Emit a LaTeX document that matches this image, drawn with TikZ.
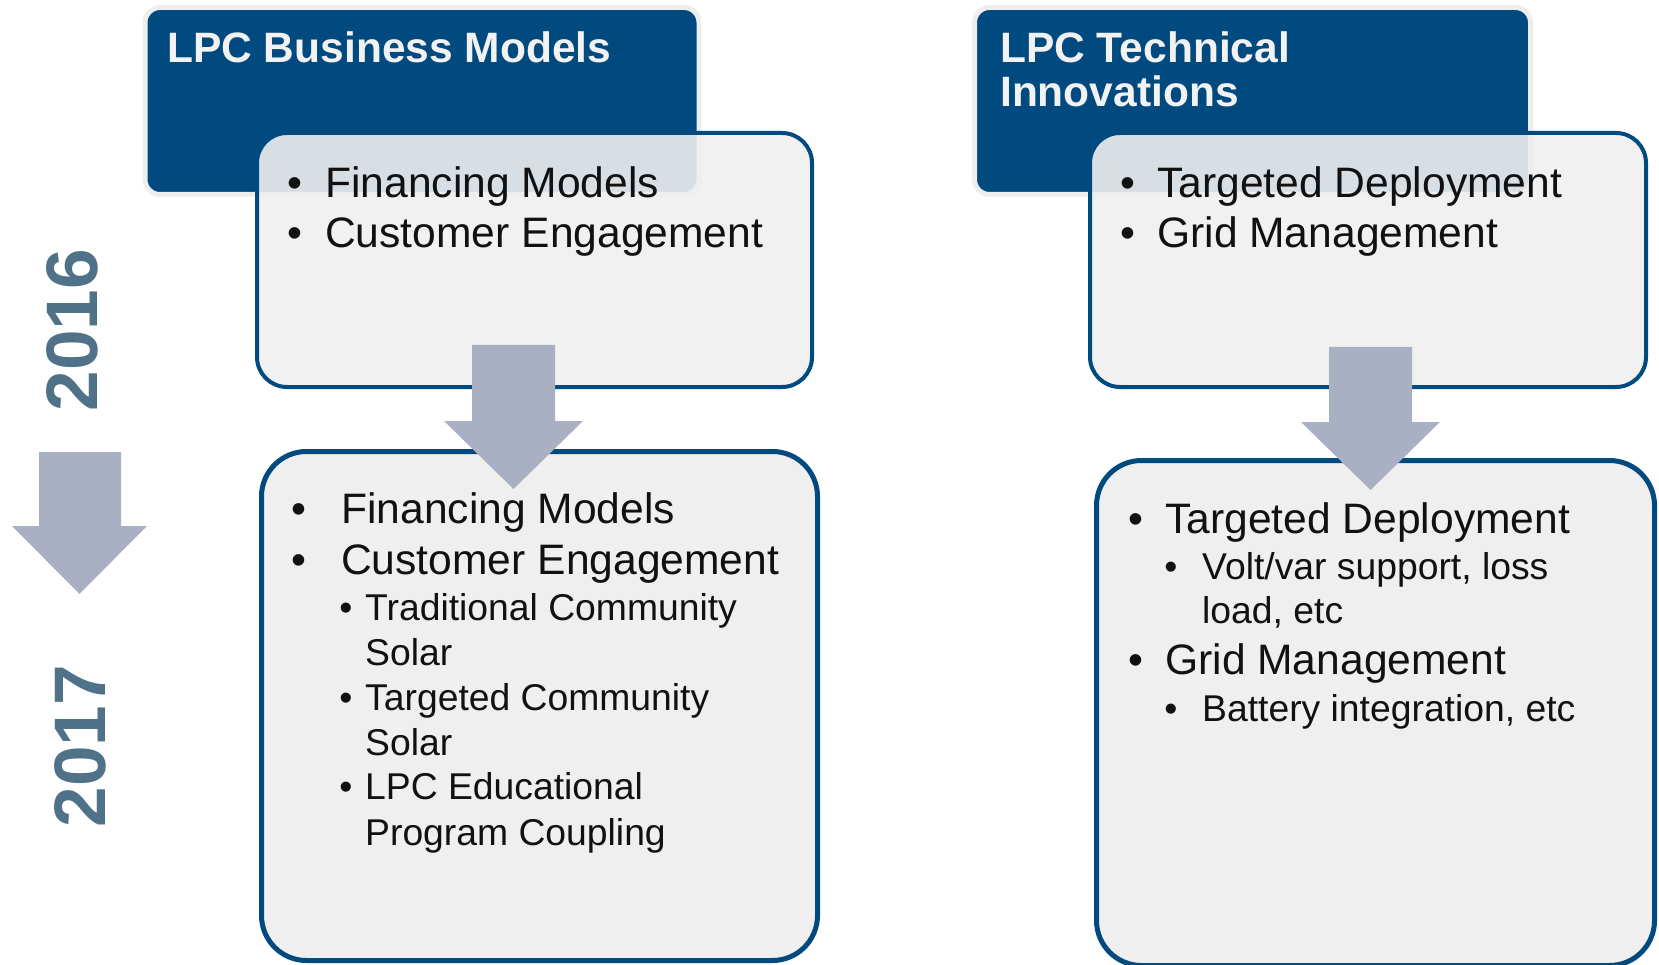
\documentclass[tikz,border=0pt]{standalone}
\usepackage{fontspec}
\setmainfont{Liberation Sans}
\definecolor{dblue}{HTML}{004A80}
\definecolor{lfill}{HTML}{EFEFEF}
\definecolor{arrowc}{HTML}{A9B0C3}
\definecolor{yearc}{HTML}{4F7289}
\definecolor{glow}{HTML}{EEEEEE}
\definecolor{ink}{HTML}{111111}
\begin{document}
\begin{tikzpicture}[x=1pt,y=-1pt,
  darkbox/.style={draw=glow, line width=5pt, fill=dblue, rounded corners=15pt, anchor=north west, inner sep=0pt},
  topbox/.style={draw=dblue, line width=4pt, fill=lfill, fill opacity=0.9, rounded corners=30pt, anchor=north west, inner sep=0pt},
  botbox/.style={draw=dblue, line width=5pt, fill=lfill, rounded corners=45pt, anchor=north west, inner sep=0pt},
  title/.style={anchor=base west, inner sep=0pt, text=white!95!black, font=\fontsize{42.5}{44}\selectfont\bfseries},
  big/.style={anchor=base west, inner sep=0pt, text=ink, font=\fontsize{42.6}{50}\selectfont},
  small/.style={anchor=base west, inner sep=0pt, text=ink, font=\fontsize{37.3}{44}\selectfont},
  bigbul/.style={anchor=base, inner sep=0pt, text=ink, font=\fontsize{42.6}{50}\selectfont},
  smallbul/.style={anchor=base, inner sep=0pt, text=ink, font=\fontsize{37.3}{44}\selectfont},
  year/.style={rotate=90, inner sep=0pt, text=yearc, font=\fontsize{73}{80}\selectfont\bfseries},
  blockarrow/.style={fill=arrowc}
]
\useasboundingbox (0,0) rectangle (1659,965);

% dark header boxes
\node[darkbox, minimum width=554pt, minimum height=187pt] (hdrA) at (142.5,5) {};
\node[darkbox, minimum width=556pt, minimum height=187pt] (hdrB) at (972,5) {};

% light 2016 boxes
\node[topbox, minimum width=555pt, minimum height=254pt] (topA) at (255,131) {};
\node[topbox, minimum width=556pt, minimum height=254pt] (topB) at (1088,131) {};

% 2017 boxes
\node[botbox, minimum width=556pt, minimum height=509pt] (botA) at (259,449) {};
\node[botbox, minimum width=558pt, minimum height=505pt] (botB) at (1094,458) {};

% block arrows
\fill[blockarrow] (472,345) -- (555,345) -- (555,421) -- (583,421) -- (513.5,489) -- (444,421) -- (472,421) -- cycle;
\fill[blockarrow] (1329,347) -- (1412,347) -- (1412,422) -- (1440,422) -- (1370.5,490) -- (1301,422) -- (1329,422) -- cycle;
\fill[blockarrow] (39,452) -- (121,452) -- (121,526) -- (147,526) -- (79.5,594) -- (12,526) -- (39,526) -- cycle;

% years
\node[year] (y2016) at (72,330) {2016};
\node[year] (y2017) at (80,746) {2017};

% titles
\node[title] (tA) at (167,63) {LPC Business Models};
\node[title] (tB1) at (1000,63) {LPC Technical};
\node[title] (tB2) at (1000,107) {Innovations};

% top left text
\node[bigbul] (bA1) at (295,198) {•};
\node[big] (lA1) at (325,198) {Financing Models};
\node[bigbul] (bA2) at (295,248) {•};
\node[big] (lA2) at (325,248) {Customer Engagement};

% top right text
\node[bigbul] (bB1) at (1128,198) {•};
\node[big] (lB1) at (1157,198) {Targeted Deployment};
\node[bigbul] (bB2) at (1128,248) {•};
\node[big] (lB2) at (1157,248) {Grid Management};

% bottom left text
\node[bigbul] (cA1) at (299,523) {•};
\node[big] (mA1) at (341,523) {Financing Models};
\node[bigbul] (cA2) at (299,574) {•};
\node[big] (mA2) at (341,574) {Customer Engagement};
\node[smallbul] (sA1) at (346,620) {•};
\node[small] (nA1) at (365,620) {Traditional Community};
\node[small] (nA1b) at (365,665) {Solar};
\node[smallbul] (sA2) at (346,710) {•};
\node[small] (nA2) at (365,710) {Targeted Community};
\node[small] (nA2b) at (365,755) {Solar};
\node[smallbul] (sA3) at (346,799) {•};
\node[small] (nA3) at (365,799) {LPC Educational};
\node[small] (nA3b) at (365,845) {Program Coupling};

% bottom right text
\node[bigbul] (cB1) at (1136,533) {•};
\node[big] (mB1) at (1165,533) {Targeted Deployment};
\node[smallbul] (sB1) at (1171,579) {•};
\node[small] (nB1) at (1202,579) {Volt/var support, loss};
\node[small] (nB1b) at (1202,623) {load, etc};
\node[bigbul] (cB2) at (1136,674) {•};
\node[big] (mB2) at (1165,674) {Grid Management};
\node[smallbul] (sB2) at (1171,721) {•};
\node[small] (nB2) at (1202,721) {Battery integration, etc};
\end{tikzpicture}
\end{document}
